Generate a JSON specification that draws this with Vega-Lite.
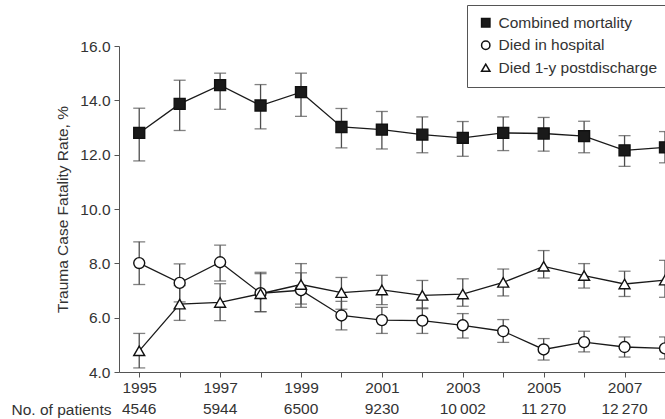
{
  "$schema": "https://vega.github.io/schema/vega-lite/v6.json",
  "autosize": {"type": "none"},
  "padding": {"left": 119, "top": 46, "right": 0, "bottom": 47},
  "width": 546,
  "height": 326,
  "background": "white",
  "datasets": {
    "rates": [
      {"year": 1995, "series": "Combined mortality", "value": 12.80, "lo": 11.77, "hi": 13.71},
      {"year": 1996, "series": "Combined mortality", "value": 13.87, "lo": 12.89, "hi": 14.74},
      {"year": 1997, "series": "Combined mortality", "value": 14.56, "lo": 13.67, "hi": 15.00},
      {"year": 1998, "series": "Combined mortality", "value": 13.81, "lo": 12.95, "hi": 14.58},
      {"year": 1999, "series": "Combined mortality", "value": 14.30, "lo": 13.41, "hi": 15.00},
      {"year": 2000, "series": "Combined mortality", "value": 13.02, "lo": 12.25, "hi": 13.70},
      {"year": 2001, "series": "Combined mortality", "value": 12.92, "lo": 12.21, "hi": 13.59},
      {"year": 2002, "series": "Combined mortality", "value": 12.74, "lo": 12.07, "hi": 13.39},
      {"year": 2003, "series": "Combined mortality", "value": 12.62, "lo": 11.94, "hi": 13.22},
      {"year": 2004, "series": "Combined mortality", "value": 12.80, "lo": 12.15, "hi": 13.39},
      {"year": 2005, "series": "Combined mortality", "value": 12.78, "lo": 12.13, "hi": 13.37},
      {"year": 2006, "series": "Combined mortality", "value": 12.68, "lo": 12.07, "hi": 13.23},
      {"year": 2007, "series": "Combined mortality", "value": 12.16, "lo": 11.57, "hi": 12.70},
      {"year": 2008, "series": "Combined mortality", "value": 12.27, "lo": 11.70, "hi": 12.85},
      {"year": 1995, "series": "Died in hospital", "value": 8.01, "lo": 7.22, "hi": 8.79},
      {"year": 1996, "series": "Died in hospital", "value": 7.28, "lo": 6.58, "hi": 7.98},
      {"year": 1997, "series": "Died in hospital", "value": 8.04, "lo": 7.35, "hi": 8.67},
      {"year": 1998, "series": "Died in hospital", "value": 6.90, "lo": 6.22, "hi": 7.62},
      {"year": 1999, "series": "Died in hospital", "value": 7.01, "lo": 6.38, "hi": 7.65},
      {"year": 2000, "series": "Died in hospital", "value": 6.08, "lo": 5.55, "hi": 6.60},
      {"year": 2001, "series": "Died in hospital", "value": 5.91, "lo": 5.42, "hi": 6.38},
      {"year": 2002, "series": "Died in hospital", "value": 5.89, "lo": 5.42, "hi": 6.36},
      {"year": 2003, "series": "Died in hospital", "value": 5.72, "lo": 5.25, "hi": 6.15},
      {"year": 2004, "series": "Died in hospital", "value": 5.50, "lo": 5.09, "hi": 5.93},
      {"year": 2005, "series": "Died in hospital", "value": 4.83, "lo": 4.44, "hi": 5.23},
      {"year": 2006, "series": "Died in hospital", "value": 5.10, "lo": 4.74, "hi": 5.50},
      {"year": 2007, "series": "Died in hospital", "value": 4.92, "lo": 4.55, "hi": 5.29},
      {"year": 2008, "series": "Died in hospital", "value": 4.87, "lo": 4.48, "hi": 5.29},
      {"year": 1995, "series": "Died 1-y postdischarge", "value": 4.78, "lo": 4.15, "hi": 5.42},
      {"year": 1996, "series": "Died 1-y postdischarge", "value": 6.50, "lo": 5.90, "hi": 7.18},
      {"year": 1997, "series": "Died 1-y postdischarge", "value": 6.56, "lo": 5.89, "hi": 7.25},
      {"year": 1998, "series": "Died 1-y postdischarge", "value": 6.88, "lo": 6.22, "hi": 7.67},
      {"year": 1999, "series": "Died 1-y postdischarge", "value": 7.22, "lo": 6.50, "hi": 7.99},
      {"year": 2000, "series": "Died 1-y postdischarge", "value": 6.92, "lo": 6.31, "hi": 7.48},
      {"year": 2001, "series": "Died 1-y postdischarge", "value": 7.02, "lo": 6.48, "hi": 7.56},
      {"year": 2002, "series": "Died 1-y postdischarge", "value": 6.82, "lo": 6.33, "hi": 7.37},
      {"year": 2003, "series": "Died 1-y postdischarge", "value": 6.87, "lo": 6.42, "hi": 7.43},
      {"year": 2004, "series": "Died 1-y postdischarge", "value": 7.30, "lo": 6.80, "hi": 7.79},
      {"year": 2005, "series": "Died 1-y postdischarge", "value": 7.89, "lo": 7.46, "hi": 8.47},
      {"year": 2006, "series": "Died 1-y postdischarge", "value": 7.55, "lo": 7.09, "hi": 7.99},
      {"year": 2007, "series": "Died 1-y postdischarge", "value": 7.24, "lo": 6.78, "hi": 7.71},
      {"year": 2008, "series": "Died 1-y postdischarge", "value": 7.38, "lo": 6.75, "hi": 8.11}
    ],
    "patients": [
      {"year": 1995, "label": "4546"},
      {"year": 1997, "label": "5944"},
      {"year": 1999, "label": "6500"},
      {"year": 2001, "label": "9230"},
      {"year": 2003, "label": "10\u2009002"},
      {"year": 2005, "label": "11\u2009270"},
      {"year": 2007, "label": "12\u2009270"}
    ]
  },
  "config": {
    "view": {"stroke": null},
    "font": "Liberation Sans",
    "axis": {
      "labelFont": "Liberation Sans",
      "labelFontSize": 15.5,
      "labelColor": "#333",
      "titleFont": "Liberation Sans",
      "titleFontSize": 15.5,
      "titleColor": "#333",
      "titleFontWeight": "normal",
      "domainColor": "#555",
      "tickColor": "#555",
      "grid": false,
      "tickSize": 5
    },
    "legend": {
      "orient": "none",
      "legendX": 348,
      "legendY": -41,
      "strokeColor": "#555",
      "fillColor": "white",
      "padding": 10,
      "labelFont": "Liberation Sans",
      "labelFontSize": 15.5,
      "labelColor": "#333",
      "labelLimit": 0,
      "labelOffset": 5,
      "symbolOffset": 1,
      "symbolSize": 70,
      "symbolStrokeWidth": 1.5,
      "rowPadding": 5.5
    }
  },
  "encoding": {
    "x": {
      "field": "year",
      "type": "quantitative",
      "scale": {"domain": [1994.5, 2008], "nice": false, "zero": false},
      "axis": {
        "values": [1995, 1996, 1997, 1998, 1999, 2000, 2001, 2002, 2003, 2004, 2005, 2006, 2007, 2008],
        "format": "d",
        "labelExpr": "datum.value % 2 == 1 ? toString(datum.value) : ''",
        "labelPadding": 3,
        "labelFlush": false,
        "labelOverlap": false,
        "title": "No. of patients",
        "titleX": -8,
        "titleY": 42,
        "titleAlign": "right",
        "titleBaseline": "alphabetic",
        "titleAnchor": "start"
      }
    }
  },
  "layer": [
    {
      "data": {"name": "rates"},
      "mark": {"type": "errorbar", "ticks": {"size": 12}, "color": "#4d4d4d", "thickness": 1.3, "clip": true},
      "encoding": {
        "y": {
          "field": "lo",
          "type": "quantitative",
          "scale": {"domain": [4, 16], "nice": false, "zero": false},
          "axis": {"values": [4, 6, 8, 10, 12, 14, 16], "format": ".1f", "labelPadding": 4, "titlePadding": 9, "title": "Trauma Case Fatality Rate, %"}
        },
        "y2": {"field": "hi"},
        "detail": {"field": "series"}
      }
    },
    {
      "data": {"name": "rates"},
      "mark": {"type": "line", "color": "#1a1a1a", "strokeWidth": 1.3, "clip": true},
      "encoding": {
        "y": {"field": "value", "type": "quantitative", "title": "Trauma Case Fatality Rate, %"},
        "detail": {"field": "series"}
      }
    },
    {
      "data": {"name": "rates"},
      "mark": {"type": "point", "filled": true, "strokeWidth": 1.4, "size": 120, "opacity": 1, "clip": true},
      "encoding": {
        "y": {"field": "value", "type": "quantitative", "title": "Trauma Case Fatality Rate, %"},
        "shape": {
          "field": "series",
          "type": "nominal",
          "scale": {"domain": ["Combined mortality", "Died in hospital", "Died 1-y postdischarge"], "range": ["square", "circle", "triangle-up"]},
          "legend": {"title": null}
        },
        "fill": {
          "field": "series",
          "type": "nominal",
          "scale": {"domain": ["Combined mortality", "Died in hospital", "Died 1-y postdischarge"], "range": ["#1a1a1a", "white", "white"]},
          "legend": {"title": null}
        },
        "stroke": {
          "field": "series",
          "type": "nominal",
          "scale": {"domain": ["Combined mortality", "Died in hospital", "Died 1-y postdischarge"], "range": ["#111", "#111", "#111"]},
          "legend": {"title": null}
        }
      }
    },
    {
      "data": {"name": "patients"},
      "mark": {"type": "text", "y": "height", "dy": 42, "baseline": "alphabetic", "align": "center", "font": "Liberation Sans", "fontSize": 15.5, "color": "#333"},
      "encoding": {
        "text": {"field": "label", "type": "nominal"}
      }
    }
  ]
}
